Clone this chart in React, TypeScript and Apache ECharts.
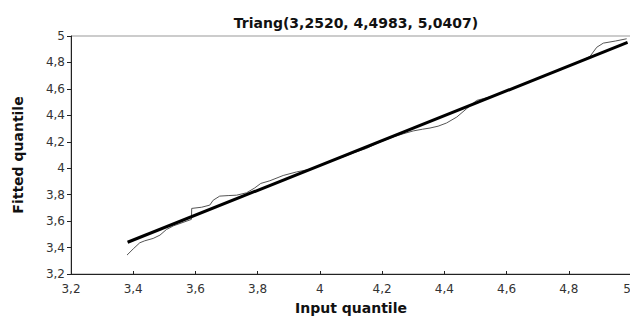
import React, { useEffect, useRef } from "react";
import * as echarts from "echarts";

const titleText = "Triang(3,2520, 4,4983, 5,0407)";
const xAxisName = "Input quantile";
const yAxisName = "Fitted quantile";

// Empirical (input) quantile vs fitted quantile – thin line
const inputQ = [
  3.38, 3.4, 3.421, 3.437, 3.464, 3.486, 3.507, 3.53, 3.56, 3.587, 3.588, 3.62,
  3.646, 3.657, 3.678, 3.705, 3.732, 3.764, 3.79, 3.81, 3.839, 3.882, 3.925,
  3.968, 4.0, 4.043, 4.08, 4.11, 4.15, 4.193, 4.24, 4.27, 4.3, 4.33, 4.354,
  4.38, 4.407, 4.44, 4.472, 4.504, 4.525, 4.56, 4.6, 4.65, 4.7, 4.75, 4.8,
  4.84, 4.868, 4.89, 4.911, 4.95, 4.986,
];
const fittedQ = [
  3.343, 3.39, 3.436, 3.451, 3.469, 3.494, 3.537, 3.565, 3.59, 3.613, 3.696,
  3.705, 3.721, 3.758, 3.789, 3.793, 3.796, 3.814, 3.85, 3.885, 3.905, 3.945,
  3.972, 3.992, 4.021, 4.06, 4.09, 4.118, 4.15, 4.198, 4.24, 4.262, 4.282,
  4.295, 4.304, 4.318, 4.342, 4.387, 4.451, 4.513, 4.526, 4.548, 4.585, 4.632,
  4.679, 4.726, 4.773, 4.812, 4.845, 4.915, 4.946, 4.962, 4.979,
];

// Reference (fitted) line – thick
const lineX = [3.382, 4.989];
const lineY = [3.44, 4.951];

const axisMin = 3.2;
const axisMax = 5;
const axisStep = 0.2;

const fmt = (v: number) => String(Number(v.toFixed(1))).replace(".", ",");

export default function App() {
  const ref = useRef<HTMLDivElement>(null);
  useEffect(() => {
    if (!ref.current) return;
    const chart = echarts.init(ref.current, undefined, { renderer: "svg" });
    const font = "DejaVu Sans";
    chart.setOption({
      animation: false,
      backgroundColor: "#fff",
      title: {
        text: titleText,
        left: 351,
        top: 11,
        textAlign: "center",
        textStyle: { fontFamily: font, fontWeight: "bold", fontSize: 14, color: "#111" },
      },
      grid: {
        left: 71,
        right: -1,
        top: 36,
        bottom: 47,
        containLabel: false,
        outerBoundsMode: "none",
        show: true,
        borderColor: "#999",
        borderWidth: 1,
      },
      xAxis: {
        type: "value",
        min: axisMin,
        max: axisMax,
        interval: axisStep,
        name: xAxisName,
        nameLocation: "middle",
        nameGap: 27,
        nameTextStyle: { fontFamily: font, fontWeight: "bold", fontSize: 14, color: "#111" },
        axisLine: { lineStyle: { color: "#222", width: 1 } },
        axisTick: { inside: true, length: 3, lineStyle: { color: "#222" } },
        splitLine: { show: false },
        axisLabel: {
          formatter: fmt,
          fontFamily: font,
          fontSize: 12,
          color: "#333",
          margin: 9,
          showMinLabel: true,
          showMaxLabel: true,
          alignMaxLabel: "right",
        },
      },
      yAxis: {
        type: "value",
        min: axisMin,
        max: axisMax,
        interval: axisStep,
        name: yAxisName,
        nameLocation: "middle",
        nameRotate: 90,
        nameGap: 46,
        nameTextStyle: { fontFamily: font, fontWeight: "bold", fontSize: 14, color: "#111" },
        axisLine: { show: true, lineStyle: { color: "#222", width: 1 } },
        axisTick: { show: true, inside: false, length: 4, lineStyle: { color: "#222" } },
        splitLine: { show: false },
        axisLabel: {
          formatter: fmt,
          fontFamily: font,
          fontSize: 12,
          color: "#333",
          margin: 6,
        },
      },
      series: [
        {
          type: "line",
          data: inputQ.map((x, i) => [x, fittedQ[i]]),
          symbol: "none",
          lineStyle: { color: "#555", width: 1 },
          z: 2,
        },
        {
          type: "line",
          data: lineX.map((x, i) => [x, lineY[i]]),
          symbol: "none",
          lineStyle: { color: "#000", width: 3 },
          z: 3,
        },
      ],
    });
    return () => chart.dispose();
  }, []);
  return (
    <div
      ref={ref}
      style={{ position: "absolute", left: 0, top: 0, width: 630, height: 321 }}
    />
  );
}
